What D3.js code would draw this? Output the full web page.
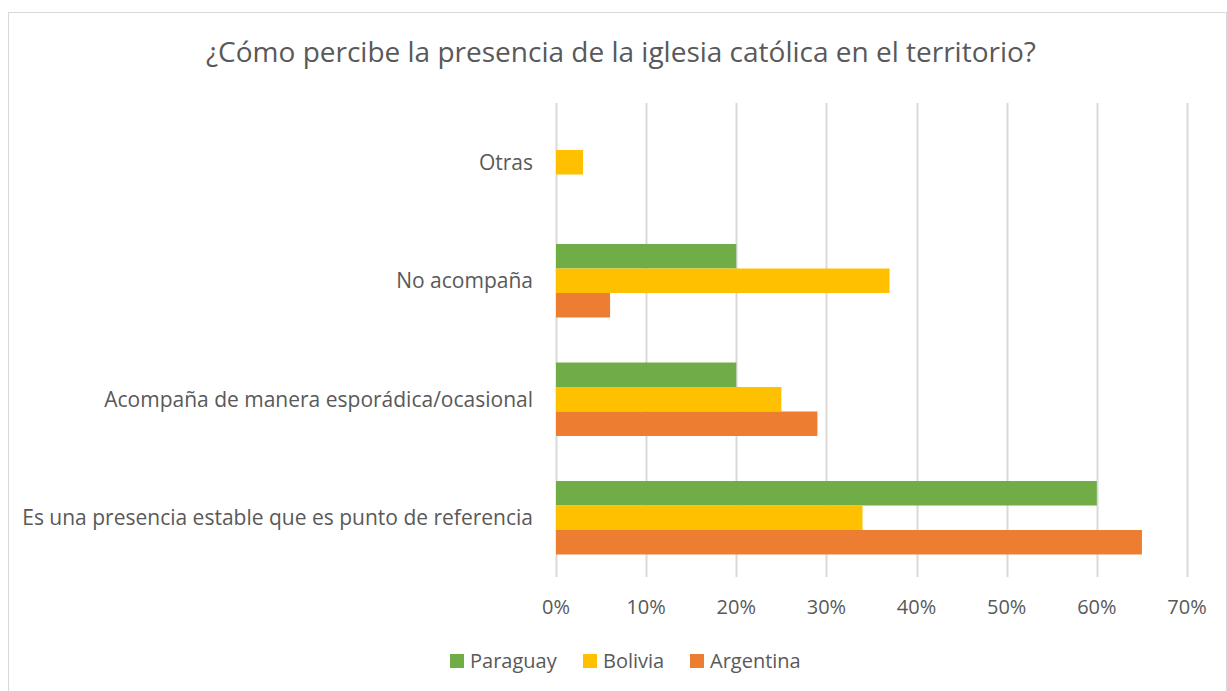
<!DOCTYPE html>
<meta charset="utf-8">
<script src="https://d3js.org/d3.v7.min.js"></script>
<style>
  body { margin: 0; background: #fff; }
  text { font-family: "Open Sans", "Noto Sans", sans-serif; fill: #595959; }
</style>
<div id="chart"></div>
<script>

// categories top to bottom
var categories = ["Otras", "No acompaña", "Acompaña de manera esporádica/ocasional", "Es una presencia estable que es punto de referencia"]
var series = ["Paraguay", "Bolivia", "Argentina"]
var colors = ["#70AD47", "#FFC000", "#ED7D31"]

// percentages per category, same order as categories
var paraguay = [0, 20, 20, 60]
var bolivia = [3, 37, 25, 34]
var argentina = [0, 6, 29, 65]
var ticks = [0, 10, 20, 30, 40, 50, 60, 70]

var values = [paraguay, bolivia, argentina]

var width = 1227, height = 691

var svg = d3.select("#chart").append("svg")
  .attr("width", width)
  .attr("height", height)

// chart border
svg.append("rect")
  .attr("x", 8.5).attr("y", 12.5)
  .attr("width", width - 9).attr("height", height - 12)
  .attr("fill", "none")
  .attr("stroke", "#d9d9d9")

svg.append("text")
  .attr("x", 621).attr("y", 62)
  .attr("text-anchor", "middle")
  .style("font-size", "28px")
  .text("¿Cómo percibe la presencia de la iglesia católica en el territorio?")

var x = d3.scaleLinear().domain([0, 70]).range([556, 1187])

var y = d3.scaleBand().domain(categories).range([103, 577])
  .paddingInner(0.38).paddingOuter(0.19)

var y1 = d3.scaleBand().domain(series).range([0, y.bandwidth()])

// gridlines
svg.append("g").selectAll("line")
  .data(ticks)
  .join("line")
    .attr("x1", function(d) { return Math.round(x(d)) + 0.5 })
    .attr("x2", function(d) { return Math.round(x(d)) + 0.5 })
    .attr("y1", 103).attr("y2", 577)
    .attr("stroke", "#d9d9d9")
    .attr("stroke-width", 2)

// tick labels
svg.append("g").selectAll("text")
  .data(ticks)
  .join("text")
    .attr("x", function(d) { return x(d) })
    .attr("y", 614)
    .attr("text-anchor", "middle")
    .style("font-size", "20px")
    .text(function(d) { return d + "%" })

// category labels
svg.append("g").selectAll("text")
  .data(categories)
  .join("text")
    .attr("x", 533)
    .attr("y", function(d) { return y(d) + y.bandwidth() / 2 })
    .attr("dy", "0.35em")
    .attr("text-anchor", "end")
    .style("font-size", "21px")
    .text(function(d) { return d })

// bars
series.forEach(function(s, i) {
  svg.append("g").selectAll("rect")
    .data(categories)
    .join("rect")
      .attr("x", x(0))
      .attr("y", function(d) { return y(d) + y1(s) })
      .attr("width", function(d, j) { return x(values[i][j]) - x(0) })
      .attr("height", y1.bandwidth())
      .attr("fill", colors[i])
})

// legend
var legendX = [450, 583, 690]
var legend = svg.append("g").selectAll("g")
  .data(series)
  .join("g")
    .attr("transform", function(d, i) { return "translate(" + legendX[i] + ",654)" })
legend.append("rect")
  .attr("width", 14).attr("height", 14)
  .attr("fill", function(d, i) { return colors[i] })
legend.append("text")
  .attr("x", 20).attr("y", 7)
  .attr("dy", "0.35em")
  .style("font-size", "20px")
  .text(function(d) { return d })

</script>
